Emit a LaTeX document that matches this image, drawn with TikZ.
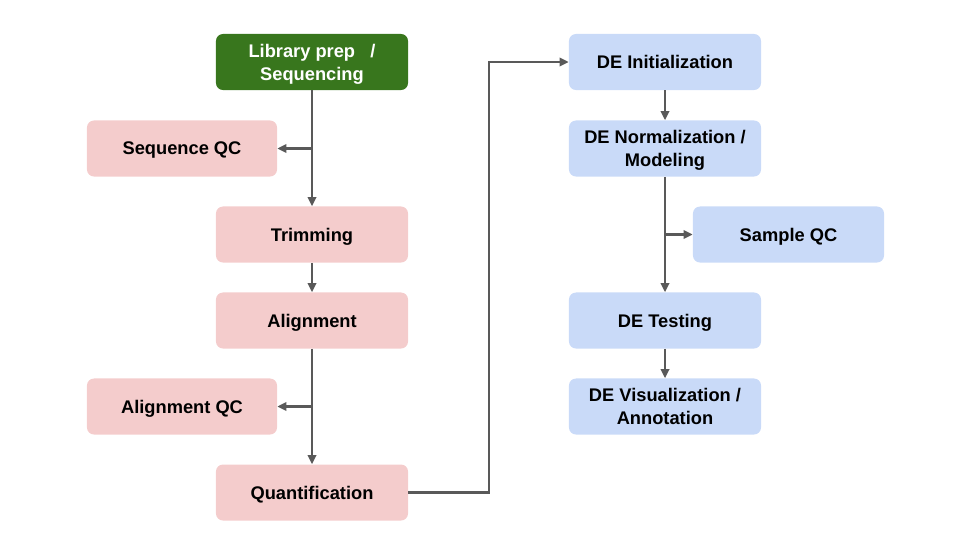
\documentclass[tikz,border=0pt]{standalone}
\usepackage{fontspec}
\setmainfont{Liberation Sans}
\usepackage{xcolor}
\usepackage{tikz}
\usetikzlibrary{shapes,arrows,arrows.meta,positioning,calc}
\definecolor{seqgreen}{HTML}{38761D}
\definecolor{prepink}{HTML}{F4CCCC}
\definecolor{deblue}{HTML}{C9DAF8}
\definecolor{linegray}{HTML}{595959}

\begin{document}
\begin{tikzpicture}[
    x=0.025cm, y=-0.025cm,
    font=\fontsize{13}{16.5}\selectfont\bfseries,
    box/.style={rectangle, rounded corners=5pt, minimum width=4.8cm, minimum height=1.4cm, align=center, inner sep=2pt, text depth=0pt},
    start/.style={box, fill=seqgreen, text=white},
    pre/.style={box, fill=prepink},
    de/.style={box, fill=deblue},
    arrow/.style={-{Triangle[length=6.5pt,width=6pt]}, line width=1.7pt, draw=linegray}
]
    \useasboundingbox (0,0) rectangle (960,540);

    % upstream processing
    \node[start] (libprep) at (312,62) {Library prep\ \ \ /\\Sequencing};
    \node[pre, minimum width=4.75cm] (seqqc) at (182,148.5) {Sequence QC};
    \node[pre] (trim) at (312,234.5) {Trimming};
    \node[pre] (align) at (312,320.5) {Alignment};
    \node[pre, minimum width=4.75cm] (alignqc) at (182,406.5) {Alignment QC};
    \node[pre] (quant) at (312,492.5) {Quantification};

    % differential expression
    \node[de] (deinit) at (665,62) {DE Initialization};
    \node[de] (denorm) at (665,148.5) {DE Normalization /\\Modeling};
    \node[de, minimum width=4.775cm] (sampleqc) at (788.5,234.5) {Sample QC};
    \node[de] (detest) at (665,320.5) {DE Testing};
    \node[de] (devis) at (665,406.5) {DE Visualization /\\Annotation};

    \coordinate (seqfork) at (libprep.south |- seqqc.east);
    \coordinate (alignfork) at (align.south |- alignqc.east);
    \coordinate (samplefork) at (denorm.south |- sampleqc.west);
    \coordinate (turnlow) at (489,492.5);
    \coordinate (turnhigh) at (489,62);

    \draw[arrow] (libprep) -- (trim);
    \draw[arrow] (seqfork) -- (seqqc);
    \draw[arrow] (trim) -- (align);
    \draw[arrow] (align) -- (quant);
    \draw[arrow] (alignfork) -- (alignqc);
    \draw[arrow] (quant.east) -- (turnlow) -- (turnhigh) -- (deinit.west);
    \draw[arrow] (deinit) -- (denorm);
    \draw[arrow] (denorm) -- (detest);
    \draw[arrow] (samplefork) -- (sampleqc);
    \draw[arrow] (detest) -- (devis);
\end{tikzpicture}
\end{document}
